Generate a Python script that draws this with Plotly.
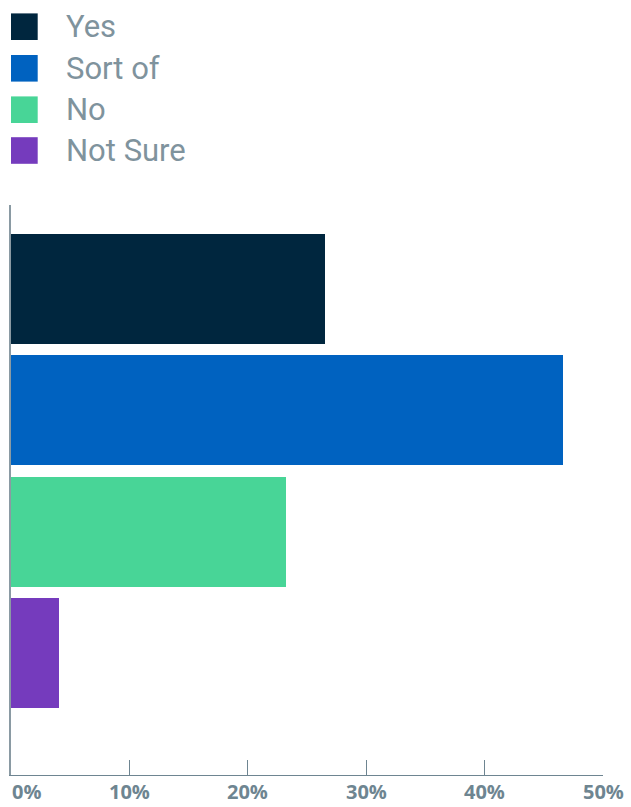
import plotly.graph_objects as go

categories = ["Yes", "Sort of", "No", "Not Sure"]
values = [26.5, 46.6, 23.2, 4.05]
colors = ["#00263e", "#0062c0", "#48d597", "#753bbd"]
tick_values = [0, 10, 20, 30, 40, 50]
tick_labels = ["0%", "10%", "20%", "30%", "40%", "50%"]

W, H = 631, 807
ML, MR, MT, MB = 11, 28, 205, 32
PW, PH = W - ML - MR, H - MT - MB

def px_x(x):
    return (x - ML) / PW

def px_y(y):
    return (H - MB - y) / PH

fig = go.Figure()
fig.add_trace(go.Bar(
    x=values, y=categories, orientation="h",
    marker=dict(color=colors, line=dict(width=0)),
    width=0.905, showlegend=False, hoverinfo="x+y",
))

axis_color = "#6e8591"
fig.update_layout(
    width=W, height=H,
    margin=dict(l=ML, r=MR, t=MT, b=MB, pad=0),
    paper_bgcolor="white", plot_bgcolor="white",
    xaxis=dict(range=[0, 50], tickvals=tick_values, showticklabels=False,
               showgrid=False, zeroline=False, showline=True, linecolor=axis_color,
               linewidth=1, ticks="inside", ticklen=15, tickcolor=axis_color, tickwidth=1),
    yaxis=dict(range=[4.0, -0.69], showticklabels=False, showgrid=False, zeroline=False,
               showline=True, linecolor="#8a9aa3", linewidth=1.5, ticks=""),
    bargap=0,
)

# tick labels
for v, t in zip(tick_values, tick_labels):
    fig.add_annotation(
        x=v, xref="x", y=px_y(806), yref="paper", text="<b>%s</b>" % t, showarrow=False,
        xanchor="left" if v == tick_values[0] else "center", yanchor="bottom",
        borderpad=0,
        font=dict(family="Open Sans", size=20, color=axis_color),
    )

# legend
row_centers = [26.7, 68.3, 109.7, 150.5]
for cat, col, yc in zip(categories, colors, row_centers):
    fig.add_shape(type="rect", xref="paper", yref="paper",
                  x0=px_x(11), x1=px_x(37.7), y0=px_y(yc + 13.3), y1=px_y(yc - 13.3),
                  fillcolor=col, line=dict(width=0))
    fig.add_annotation(x=px_x(64), y=px_y(yc), xref="paper", yref="paper",
                       text=cat, showarrow=False, xanchor="left", yanchor="middle",
                       font=dict(family="Roboto", size=31, color="#7f939d"))

fig.write_html("out.html")
